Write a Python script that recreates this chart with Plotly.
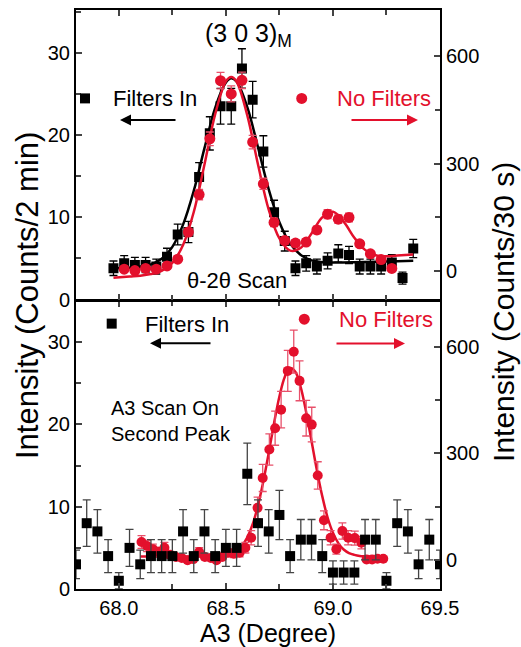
import plotly.graph_objects as go

# ---------------- data: top panel (theta-2theta scan) ----------------
top_x_filt = [67.975, 68.025, 68.075, 68.125, 68.175, 68.225, 68.275, 68.325, 68.375, 68.425,
              68.475, 68.525, 68.575, 68.625, 68.675, 68.725, 68.775, 68.825, 68.875, 68.925,
              68.975, 69.025, 69.075, 69.125, 69.175, 69.225, 69.275, 69.325, 69.375]
top_y_filt = [3.8, 4.4, 4.2, 4.2, 4.0, 5.2, 7.9, 8.2, 14.9, 20.2,
              23.5, 23.5, 28.1, 24.3, 18.0, 10.6, 7.1, 3.8, 4.4, 4.0,
              4.7, 5.6, 5.4, 4.0, 4.0, 4.0, 4.5, 2.6, 6.2]
top_e_filt = [0.88, 0.94, 0.92, 0.92, 0.9, 1.03, 1.26, 1.29, 1.74, 2.02,
              2.18, 2.18, 2.39, 2.22, 1.91, 1.47, 1.2, 0.88, 0.94, 0.9,
              0.98, 1.06, 1.05, 0.9, 0.9, 0.9, 0.95, 0.73, 1.12]

top_x_nof = [68.025, 68.075, 68.125, 68.175, 68.225, 68.275, 68.325, 68.375, 68.425, 68.475,
             68.525, 68.575, 68.625, 68.675, 68.725, 68.775, 68.825, 68.875, 68.925, 68.975,
             69.025, 69.075, 69.125, 69.175, 69.225, 69.275]
top_y_nof = [4, 0, 6, 4, 13, 32, 108, 213, 369, 532,
             495, 533, 360, 243, 135, 84, 77, 80, 114, 158,
             144, 149, 75, 47, 31, 6]
top_e_nof = [2, 1, 2.4, 2, 3.6, 5.7, 10.4, 14.6, 19.2, 23.1,
             22.2, 23.1, 19, 15.6, 11.6, 9.2, 8.8, 8.9, 10.7, 12.6,
             12, 12.2, 8.7, 6.9, 5.6, 2.4]

top_fitx_filt = [67.975, 68.05, 68.1, 68.15, 68.2, 68.25, 68.3, 68.35, 68.4, 68.45, 68.5, 68.525,
                 68.55, 68.6, 68.65, 68.7, 68.75, 68.8, 68.85, 68.9, 68.95, 69.0, 69.1, 69.2, 69.3, 69.375]
top_fity_filt = [3.8, 3.85, 4.0, 4.27, 4.95, 6.4, 9.1, 13.2, 18.4, 23.3, 26.4, 26.9,
                 26.5, 23.4, 18.5, 13.4, 9.4, 6.8, 5.4, 4.75, 4.54, 4.49, 4.52, 4.59, 4.65, 4.7]

top_fitx_nof = [67.975, 68.05, 68.1, 68.15, 68.2, 68.25, 68.3, 68.35, 68.4, 68.45, 68.5, 68.525,
                68.55, 68.6, 68.65, 68.7, 68.75, 68.8, 68.85, 68.9, 68.95, 69.0, 69.05, 69.1,
                69.15, 69.2, 69.25, 69.3, 69.375]
top_fity_nof = [-20, -16.5, -14.2, -9.6, -0.6, 21.8, 71.8, 164, 297, 438, 530, 542,
                529, 435, 297, 171, 90, 56, 64, 104, 149, 165, 137, 92,
                58, 43, 40, 42, 45]

# ---------------- data: bottom panel (A3 scan on second peak) ----------------
bot_x_filt = [67.80, 67.85, 67.90, 67.95, 68.00, 68.05, 68.10, 68.15, 68.20, 68.25,
              68.30, 68.35, 68.40, 68.45, 68.50, 68.55, 68.60, 68.65, 68.70, 68.75,
              68.80, 68.85, 68.90, 68.95, 69.00, 69.05, 69.10, 69.15, 69.20, 69.25,
              69.30, 69.35, 69.40, 69.45, 69.50]
bot_y_filt = [3, 8, 7, 4, 1, 5, 3, 4, 4, 4,
              7, 4, 7, 4, 5, 5, 14, 8, 7, 9,
              4, 6, 6, 4, 2, 2, 2, 6, 6, 1,
              8, 7, 3, 6, 3]
bot_e_filt = [1.73, 2.83, 2.65, 2, 1, 2.24, 1.73, 2, 2, 2,
              2.65, 2, 2.65, 2, 2.24, 2.24, 3.74, 2.83, 2.65, 3,
              2, 2.45, 2.45, 2, 1.41, 1.41, 1.41, 2.45, 2.45, 1,
              2.83, 2.65, 1.73, 2.45, 1.73]

bot_x_nof = [68.106, 68.132, 68.159, 68.186, 68.213, 68.240, 68.267, 68.294, 68.321, 68.348,
             68.375, 68.402, 68.430, 68.456, 68.483, 68.510, 68.537, 68.564, 68.591, 68.618,
             68.648, 68.672, 68.703, 68.730, 68.758, 68.789, 68.817, 68.844, 68.875, 68.901,
             68.929, 68.958, 68.989, 69.016, 69.044, 69.071, 69.102, 69.133, 69.157, 69.183,
             69.208, 69.235]
bot_y_nof = [51, 40, 31, 24, 35, 15, 9, 6, 0, 3,
             23, 9, 6, 0, 9, 21, 18, 21, 35, 63,
             147, 231, 311, 371, 423, 532, 586, 504, 399, 381,
             238, 112, 63, 31, 82, 63, 62, 49, 2, 2,
             4, 4]
bot_e_nof = [17.9, 15.8, 13.9, 12.2, 14.8, 9.7, 7.5, 6.1, 4.3, 4.3,
             12, 7.5, 6.1, 4.3, 7.5, 11.5, 10.6, 11.5, 14.8, 19.8,
             30.3, 38, 44, 48, 51.4, 57.7, 60.5, 56, 50, 48.8,
             38.6, 26.5, 19.8, 13.9, 22.6, 19.8, 19.7, 17.5, 4.3, 4.3,
             5, 5]

bot_fitx_nof = [68.1, 68.2, 68.3, 68.4, 68.45, 68.5, 68.55, 68.575, 68.6, 68.625, 68.65, 68.675,
                68.7, 68.725, 68.75, 68.775, 68.8, 68.825, 68.85, 68.875, 68.9, 68.925, 68.95,
                68.975, 69.0, 69.025, 69.05, 69.075, 69.1, 69.125, 69.15, 69.2, 69.235]
bot_fity_nof = [10, 10, 10, 10, 10.6, 13.4, 25.5, 40, 64, 101, 154, 222,
                301, 385, 460, 515, 540, 529, 485, 416, 335, 253, 180,
                120, 77, 48, 30, 20, 15, 12, 11, 10.5, 10.5]

# ---------------- style ----------------
RED = "#E3102C"
RED_ERR = "#E8506A"
BLACK = "#000000"
FONT = "Liberation Sans, Arial, sans-serif"

fig = go.Figure()

# top panel
fig.add_trace(go.Scatter(x=top_fitx_filt, y=top_fity_filt, xaxis="x2", yaxis="y", mode="lines",
                         line=dict(color=BLACK, width=2.5, shape="spline", smoothing=1), showlegend=False))
fig.add_trace(go.Scatter(x=top_x_filt, y=top_y_filt, xaxis="x2", yaxis="y", mode="markers",
                         marker=dict(symbol="square", size=10, color=BLACK),
                         error_y=dict(type="data", array=top_e_filt, color=BLACK, thickness=1.3, width=4),
                         showlegend=False))
fig.add_trace(go.Scatter(x=top_fitx_nof, y=top_fity_nof, xaxis="x2", yaxis="y2", mode="lines",
                         line=dict(color=RED, width=2.5, shape="spline", smoothing=1), showlegend=False))
fig.add_trace(go.Scatter(x=top_x_nof, y=top_y_nof, xaxis="x2", yaxis="y2", mode="markers",
                         marker=dict(symbol="circle", size=11, color=RED),
                         error_y=dict(type="data", array=top_e_nof, color=RED_ERR, thickness=1.3, width=4),
                         showlegend=False))

# bottom panel (red on base axis y4, black on overlay y3 so black squares sit on top)
fig.add_trace(go.Scatter(x=bot_fitx_nof, y=bot_fity_nof, xaxis="x", yaxis="y4", mode="lines",
                         line=dict(color=RED, width=2.5, shape="spline", smoothing=1), showlegend=False))
fig.add_trace(go.Scatter(x=bot_x_nof, y=bot_y_nof, xaxis="x", yaxis="y4", mode="markers",
                         marker=dict(symbol="circle", size=10, color=RED),
                         error_y=dict(type="data", array=bot_e_nof, color=RED_ERR, thickness=1.3, width=4),
                         showlegend=False))
fig.add_trace(go.Scatter(x=bot_x_filt, y=bot_y_filt, xaxis="x", yaxis="y3", mode="markers",
                         marker=dict(symbol="square", size=10, color=BLACK),
                         error_y=dict(type="data", array=bot_e_filt, color="#444444", thickness=1.3, width=4),
                         cliponaxis=True, showlegend=False))

tickfont = dict(family=FONT, size=20, color=BLACK)
xcommon = dict(range=[67.8, 69.5], tick0=68.0, dtick=0.5, ticks="inside", ticklen=6, tickwidth=1.5,
               minor=dict(dtick=0.25, tick0=68.0, ticks="inside", ticklen=5, tickwidth=1.5),
               showline=True, linewidth=2, linecolor=BLACK, mirror="ticks", showgrid=False,
               zeroline=False, tickfont=tickfont, tickformat=".1f")
ycommon_l = dict(dtick=10, tick0=0, ticks="inside", ticklen=6, tickwidth=1.5,
                 minor=dict(dtick=5, ticks="inside", ticklen=5, tickwidth=1.5),
                 showline=True, linewidth=2, linecolor=BLACK, showgrid=False, zeroline=False,
                 tickfont=tickfont)
ycommon_r = dict(dtick=300, tick0=0, ticks="inside", ticklen=6, tickwidth=1.5,
                 minor=dict(dtick=150, ticks="inside", ticklen=5, tickwidth=1.5),
                 showline=True, linewidth=2, linecolor=BLACK, showgrid=False, zeroline=False,
                 tickfont=tickfont)

split_low = 0.5 - 2.0 / 581.0  # so the two panel frames share one line

fig.update_layout(
    width=521, height=647,
    margin=dict(l=76, r=81, t=8, b=58),
    plot_bgcolor="white", paper_bgcolor="white",
    font=dict(family=FONT, color=BLACK),
    xaxis=dict(domain=[0, 1], anchor="y4", **xcommon),
    xaxis2=dict(domain=[0, 1], anchor="y", matches="x", showticklabels=False, **xcommon),
    yaxis=dict(domain=[0.5, 1], anchor="x2", range=[0, 35.2], side="left", **ycommon_l),
    yaxis2=dict(overlaying="y", anchor="x2", side="right", range=[-81, 730], **ycommon_r),
    yaxis4=dict(domain=[0, split_low], anchor="x", side="right", range=[-81, 727], **ycommon_r),
    yaxis3=dict(overlaying="y4", anchor="x", side="left", range=[0, 34.95], **ycommon_l),
)


def px(x):
    return (x - 76) / 364.0


def py(y):
    return (589 - y) / 581.0


ann = []
# axis titles
ann.append(dict(text="A3 (Degree)", x=px(268), y=py(633), xref="paper", yref="paper",
                xanchor="center", yanchor="middle", showarrow=False, font=dict(size=25, family=FONT)))
ann.append(dict(text="Intensity (Counts/2 min)", x=px(27), y=py(295), xref="paper", yref="paper",
                xanchor="center", yanchor="middle", textangle=-90, showarrow=False,
                font=dict(size=31, family=FONT)))
ann.append(dict(text="Intensity (Counts/30 s)", x=px(504), y=py(311), xref="paper", yref="paper",
                xanchor="center", yanchor="middle", textangle=-90, showarrow=False,
                font=dict(size=30, family=FONT)))
# top panel labels
ann.append(dict(text="(3 0 3)<sub>M</sub>", x=px(203), y=py(33), xref="paper", yref="paper",
                xanchor="left", yanchor="middle", showarrow=False, font=dict(size=25, family=FONT)))
ann.append(dict(text="Filters In", x=px(111), y=py(96.7), xref="paper", yref="paper",
                xanchor="left", yanchor="middle", showarrow=False, font=dict(size=22, family=FONT)))
ann.append(dict(text="No Filters", x=px(335), y=py(96.7), xref="paper", yref="paper",
                xanchor="left", yanchor="middle", showarrow=False, font=dict(size=22, family=FONT, color=RED)))
ann.append(dict(text="\u03b8-2\u03b8 Scan", x=px(185), y=py(279.3), xref="paper", yref="paper",
                xanchor="left", yanchor="middle", showarrow=False, font=dict(size=22, family=FONT)))
# bottom panel labels
ann.append(dict(text="Filters In", x=px(143), y=py(323.3), xref="paper", yref="paper",
                xanchor="left", yanchor="middle", showarrow=False, font=dict(size=22, family=FONT)))
ann.append(dict(text="No Filters", x=px(336.7), y=py(318.3), xref="paper", yref="paper",
                xanchor="left", yanchor="middle", showarrow=False, font=dict(size=22, family=FONT, color=RED)))
ann.append(dict(text="A3 Scan On<br>Second Peak", x=px(109.3), y=py(420), xref="paper", yref="paper",
                xanchor="left", yanchor="middle", align="left", showarrow=False,
                font=dict(size=20, family=FONT)))
# arrows
for hx, hy, axp, col in [(120, 118.3, 57, BLACK), (418, 118.3, -68, RED),
                         (150, 342.3, 62, BLACK), (405, 342.7, -70, RED)]:
    ann.append(dict(text="", x=px(hx), y=py(hy), xref="paper", yref="paper", ax=axp, ay=0,
                    showarrow=True, arrowhead=2, arrowsize=1.1, arrowwidth=2, arrowcolor=col))
fig.update_layout(annotations=ann)

# legend keys (square / circle next to the labels)
shapes = []
for cx, cy, kind, col, s in [(85, 96.7, "rect", BLACK, 10), (301.7, 96.7, "circle", RED, 11),
                             (111.7, 322.7, "rect", BLACK, 10), (304.3, 318.3, "circle", RED, 11)]:
    shapes.append(dict(type=kind, xref="paper", yref="paper", xsizemode="pixel", ysizemode="pixel",
                       xanchor=px(cx), yanchor=py(cy), x0=-s / 2, x1=s / 2, y0=-s / 2, y1=s / 2,
                       fillcolor=col, line=dict(width=0)))
fig.update_layout(shapes=shapes)

fig.write_html("out.html", config={"displayModeBar": False},
               post_script="document.body.style.margin='0';document.body.style.padding='0';")
